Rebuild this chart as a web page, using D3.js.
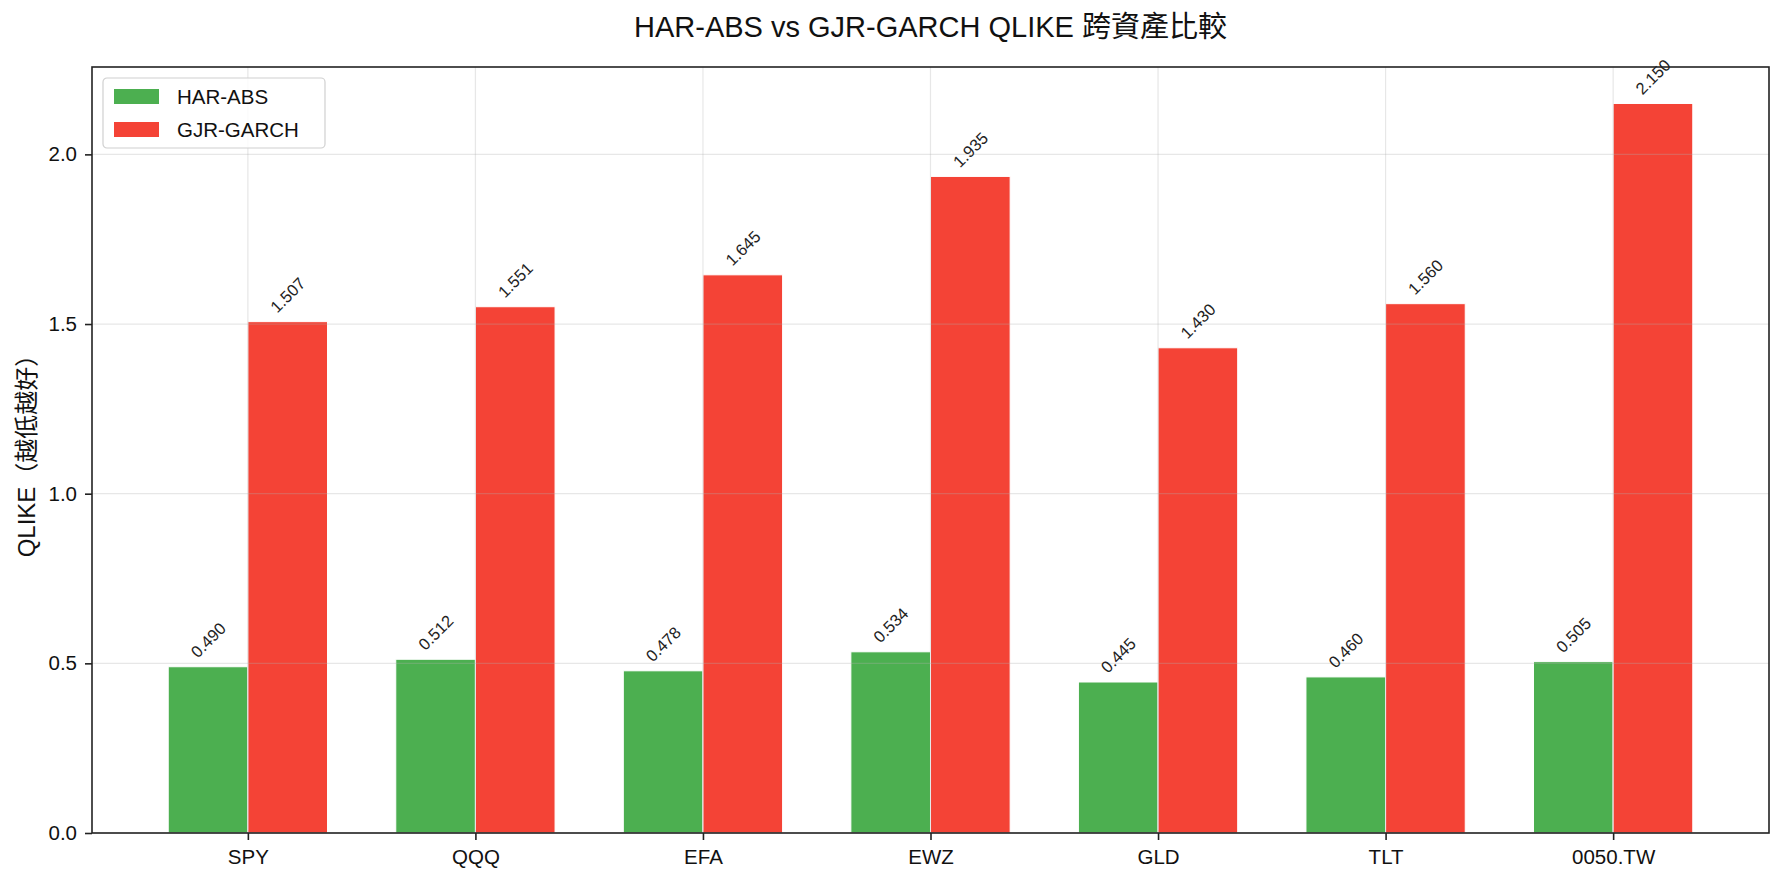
<!DOCTYPE html>
<html>
<head>
<meta charset="utf-8">
<script src="https://cdn.jsdelivr.net/npm/d3@7"></script>
<style>
  body { margin: 0; background: #fff; }
  text { font-family: "Liberation Sans", "Noto Sans CJK TC", sans-serif; }
</style>
</head>
<body>
<div id="wrapper"></div>
<script>
/// Data ///
const assets = ["SPY", "QQQ", "EFA", "EWZ", "GLD", "TLT", "0050.TW"];
const harAbs = [0.490, 0.512, 0.478, 0.534, 0.445, 0.460, 0.505];
const gjrGarch = [1.507, 1.551, 1.645, 1.935, 1.430, 1.560, 2.150];
const seriesNames = ["HAR-ABS", "GJR-GARCH"];
const yTicks = [0.0, 0.5, 1.0, 1.5, 2.0];

/// Dimensions ///
const width = 1783;
const height = 883;
const margin = { top: 67, right: 14, bottom: 50, left: 92 };
const barWidth = 0.35;
const colours = ["#4CAF50", "#F44336"];
const labelSize = 16.5;

const svg = d3.select("#wrapper").append("svg")
  .attr("width", width)
  .attr("height", height);

// x works in category units like matplotlib
const x = d3.scaleLinear()
  .domain([-0.685, assets.length - 1 + 0.685])
  .range([margin.left, width - margin.right]);

const yMax = d3.max(gjrGarch) * 1.05;
const y = d3.scaleLinear()
  .domain([0, yMax])
  .range([height - margin.bottom, margin.top]);

/// Bars ///
const series = [harAbs, gjrGarch];
series.forEach((vals, s) => {
  const offset = s === 0 ? -barWidth / 2 : barWidth / 2;
  svg.append("g").selectAll("rect")
    .data(vals)
    .join("rect")
      .attr("x", (d, i) => x(i + offset - barWidth / 2))
      .attr("y", d => y(d))
      .attr("width", x(barWidth) - x(0))
      .attr("height", d => y(0) - y(d))
      .attr("fill", colours[s])
      .attr("stroke", "white")
      .attr("stroke-width", 1);
});

/// Grid (drawn above bars, like matplotlib default) ///
const grid = svg.append("g").attr("stroke", "#b0b0b0").attr("stroke-opacity", 0.3).attr("stroke-width", 1.2);
grid.selectAll(".gy")
  .data(yTicks)
  .join("line")
    .attr("x1", margin.left).attr("x2", width - margin.right)
    .attr("y1", d => y(d)).attr("y2", d => y(d));
grid.selectAll(".gx")
  .data(assets)
  .join("line")
    .attr("x1", (d, i) => x(i)).attr("x2", (d, i) => x(i))
    .attr("y1", margin.top).attr("y2", height - margin.bottom);

/// Value labels: rotated 45deg, bounding box centred on bar, bottom just above it ///
series.forEach((vals, s) => {
  const offset = s === 0 ? -barWidth / 2 : barWidth / 2;
  svg.append("g").selectAll("text")
    .data(vals)
    .join("text")
      .attr("text-anchor", "middle")
      .attr("dominant-baseline", "central")
      .attr("font-size", labelSize)
      .attr("fill", "#222")
      .text(d => d.toFixed(3))
      .each(function (d, i) {
        const len = this.getComputedTextLength();
        const boxH = (len + labelSize * 0.72) / Math.SQRT2;
        const cx = x(i + offset);
        const cy = y(d) - 8 - boxH / 2;
        d3.select(this).attr("transform", `translate(${cx}, ${cy}) rotate(-45)`);
      });
});

/// Axes ///
const xAxis = d3.axisBottom(x)
  .tickValues(d3.range(assets.length))
  .tickFormat(i => assets[i])
  .tickSizeOuter(0)
  .tickSize(7)
  .tickPadding(9);
const gx = svg.append("g")
  .attr("transform", `translate(0, ${height - margin.bottom})`)
  .call(xAxis);
gx.select(".domain").remove();
gx.selectAll("text").attr("font-size", 20.5).attr("fill", "#111");
gx.selectAll("line").attr("stroke", "#222").attr("stroke-width", 1.6);

const yAxis = d3.axisLeft(y)
  .tickValues(yTicks)
  .tickFormat(d3.format(".1f"))
  .tickSizeOuter(0)
  .tickSize(7)
  .tickPadding(8);
const gy = svg.append("g")
  .attr("transform", `translate(${margin.left}, 0)`)
  .call(yAxis);
gy.select(".domain").remove();
gy.selectAll("text").attr("font-size", 20.5).attr("fill", "#111");
gy.selectAll("line").attr("stroke", "#222").attr("stroke-width", 1.6);

// frame
svg.append("rect")
  .attr("x", margin.left).attr("y", margin.top)
  .attr("width", width - margin.left - margin.right)
  .attr("height", height - margin.top - margin.bottom)
  .attr("fill", "none")
  .attr("stroke", "#222")
  .attr("stroke-width", 1.6);

/// Titles ///
svg.append("text")
  .attr("x", (margin.left + width - margin.right) / 2)
  .attr("y", 37)
  .attr("text-anchor", "middle")
  .attr("font-size", 29)
  .attr("fill", "#111")
  .text("HAR-ABS vs GJR-GARCH QLIKE 跨資產比較");

svg.append("text")
  .attr("transform", `translate(35, ${(margin.top + height - margin.bottom) / 2}) rotate(-90)`)
  .attr("text-anchor", "middle")
  .attr("font-size", 24)
  .attr("fill", "#111")
  .text("QLIKE（越低越好）");

/// Legend ///
const legend = svg.append("g").attr("transform", `translate(${margin.left + 11}, ${margin.top + 11})`);
legend.append("rect")
  .attr("width", 222).attr("height", 70)
  .attr("rx", 4)
  .attr("fill", "white").attr("fill-opacity", 0.8)
  .attr("stroke", "#d0d0d0").attr("stroke-width", 1.2);
seriesNames.forEach((name, i) => {
  legend.append("rect")
    .attr("x", 11).attr("y", 11 + i * 33)
    .attr("width", 45).attr("height", 15)
    .attr("fill", colours[i]);
  legend.append("text")
    .attr("x", 74).attr("y", 26 + i * 33)
    .attr("font-size", 20.5)
    .attr("fill", "#111")
    .text(name);
});
</script>
</body>
</html>
